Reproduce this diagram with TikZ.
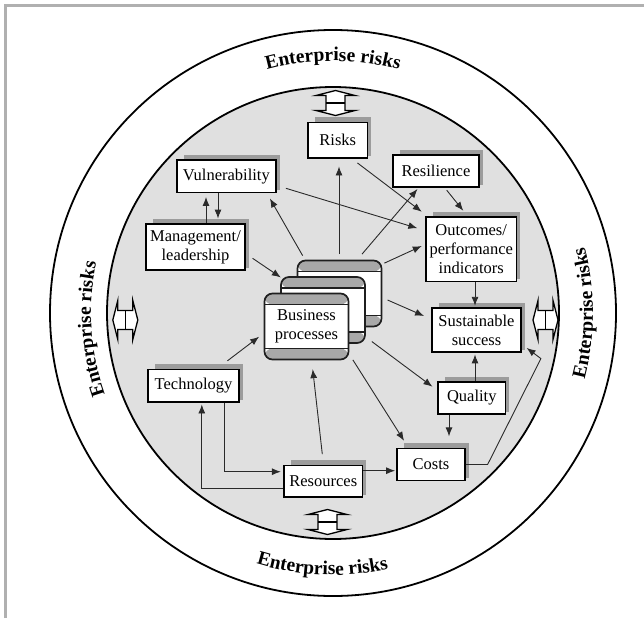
\documentclass[tikz,border=0pt]{standalone}
\usepackage{fontspec}
\setmainfont{Liberation Serif}
\usetikzlibrary{arrows.meta,calc,decorations.text}

\definecolor{discfill}{HTML}{E0E0E0}
\definecolor{shadowc}{HTML}{9C9C9C}
\definecolor{bandc}{HTML}{A8A8A8}
\definecolor{framec}{HTML}{B0B0B0}
\definecolor{linec}{HTML}{2A2A2A}

\pgfdeclarelayer{back}
\pgfdeclarelayer{shade}
\pgfsetlayers{back,shade,main}

\tikzset{
  box/.style={draw=black, line width=1.8pt, fill=white, inner sep=0pt, align=center,
    font=\fontsize{16.5}{19}\selectfont},
  card/.style={draw=black!88, line width=1.7pt, fill=white, rounded corners=8pt,
    minimum width=84pt, minimum height=66pt, inner sep=0pt, align=center,
    font=\fontsize{16.5}{19}\selectfont,
    path picture={
      \fill[bandc] (path picture bounding box.north west) rectangle ([yshift=-11pt]path picture bounding box.north east);
      \fill[bandc] (path picture bounding box.south west) rectangle ([yshift=11pt]path picture bounding box.south east);
      \draw[line width=1.5pt, black!88] ([yshift=-11pt]path picture bounding box.north west) -- ([yshift=-11pt]path picture bounding box.north east);
      \draw[line width=1.5pt, black!88] ([yshift=11pt]path picture bounding box.south west) -- ([yshift=11pt]path picture bounding box.south east);
    }},
  arr/.style={draw=linec, line width=0.9pt, -{Latex[length=9pt,width=7pt]}},
  ring/.style={line width=1.8pt, draw=black},
  ertext/.style={decorate, decoration={text along path, text align=center,
    text={|\bfseries\fontsize{19.5}{20}\selectfont|Enterprise risks}}},
  pics/dblarrow/.style={code={
    \draw[line width=1.3pt, fill=white, line join=miter]
      (-12.5,0) -- (-7.5,-19.5) -- (-7.5,-9.5) -- (7.5,-9.5) -- (7.5,-19.5) -- (12.5,0)
      -- (7.5,19.5) -- (7.5,9.5) -- (-7.5,9.5) -- (-7.5,19.5) -- cycle;
    \draw[line width=1.3pt] (0,-9.5) -- (0,9.5);
  }},
}

\begin{document}
\begin{tikzpicture}[x=1pt,y=-1pt]
\useasboundingbox (0,0) rectangle (644,618);

% frame, rings and disc
\begin{pgfonlayer}{back}
  \draw[framec, line width=2.5pt] (5.5,618) -- (5.5,5.5) -- (644,5.5);
  \draw[ring, fill=white] (333,313) circle[radius=283];
  \draw[ring, fill=discfill] (333,313) circle[radius=226];
\end{pgfonlayer}

% curved labels in the outer ring
\path[ertext] (333,313) ++(-130:252) arc[start angle=-130, end angle=-50, radius=252];
\path[ertext] (333,313) ++(-223.8:242) arc[start angle=-223.8, end angle=-143.8, radius=242];
\path[ertext] (333,313) ++(40:260) arc[start angle=40, end angle=-40, radius=260];
\path[ertext] (333,313) ++(-227.6:262) arc[start angle=-227.6, end angle=-307.6, radius=262];

% two-way exchange arrows on the disc edge
\pic[rotate=90] at (335.5,103) {dblarrow};
\pic[rotate=90] at (327.5,522) {dblarrow};
\pic at (125.3,320) {dblarrow};
\pic at (545.5,320) {dblarrow};

% boxes
\node[box, minimum width=59.5pt, minimum height=35.5pt] (risks) at (337.8,140.3) {Risks};
\node[box, minimum width=86pt, minimum height=31.6pt] (res) at (436,170.8) {Resilience};
\node[box, minimum width=99.4pt, minimum height=32.5pt] (vul) at (226.3,176.3) {Vulnerability};
\node[box, minimum width=99pt, minimum height=46pt] (mgmt) at (195.5,247) {Management/\\leadership};
\node[box, minimum width=90.5pt, minimum height=64.5pt] (out) at (471.2,249.2) {Outcomes/\\performance\\indicators};
\node[box, minimum width=89pt, minimum height=44pt] (sust) at (476.5,330) {Sustainable\\success};
\node[box, minimum width=67.5pt, minimum height=32pt] (qual) at (471.8,398) {Quality};
\node[box, minimum width=68pt, minimum height=32pt] (costs) at (431,464.5) {Costs};
\node[box, minimum width=78.5pt, minimum height=31.5pt] (resr) at (323.3,481.3) {Resources};
\node[box, minimum width=91pt, minimum height=32.5pt] (tech) at (193.5,385.8) {Technology};

% drop shadows behind the boxes
\begin{pgfonlayer}{shade}
  \foreach \n in {risks,res,vul,mgmt,out,sust,qual,costs,resr,tech}
    \fill[shadowc] ([shift={(8,-4.5)}]\n.north west) rectangle ([shift={(3,-3)}]\n.south east);
\end{pgfonlayer}

% stacked process cards
\node[card] (bpC) at (339.5,293.5) {};
\node[card] (bpB) at (323,310) {};
\node[card] (bpA) at (306.5,326.5) {Business\\processes};

% connectors
\draw[arr] ([shift={(10.5,0)}]mgmt.north) -- ([shift={(-20.3,3.5)}]vul.south);
\draw[arr] ([shift={(-8.3,0)}]vul.south) -- ([shift={(22.5,-4.5)}]mgmt.north);
\draw[arr] ([shift={(6,-4)}]bpC.north west) -- ([shift={(-7,5)}]vul.south east);
\draw[arr] ([shift={(-0.5,-5.5)}]bpC.north) -- ([shift={(1.2,7.5)}]risks.south);
\draw[arr] ([shift={(22.5,-5.5)}]bpC.north) -- ([shift={(-18.5,1.5)}]res.south);
\draw[arr] ([shift={(-11,4)}]risks.south east) -- ([shift={(-3.3,-4.3)}]out.north west);
\draw[arr] ([shift={(9,12)}]vul.east) -- ([shift={(-7.7,-21)}]out.west);
\draw[arr] ([shift={(10.7,2.7)}]res.south) -- ([shift={(-7.9,-5.3)}]out.north);
\draw[arr] ([shift={(2,3.5)}]bpC.north east) -- ([shift={(-3.3,-3.2)}]out.west);
\draw[arr] ([shift={(6.7,11.3)}]mgmt.east) -- ([shift={(0.7,1.3)}]bpB.north west);
\draw[arr] ([shift={(3.8,0)}]out.south) -- ([shift={(-1.5,-1.3)}]sust.north);
\draw[arr] ([shift={(5.2,6.5)}]bpC.east) -- ([shift={(-7,-14)}]sust.west);
\draw[arr] ([shift={(3.2,0)}]qual.north) -- ([shift={(-1.5,1.5)}]sust.south);
\draw[arr] ([shift={(6,-2.3)}]bpB.south east) -- ([shift={(-4.7,-11.3)}]qual.west);
\draw[arr] ([shift={(-22.8,0)}]qual.south) -- ([shift={(18,-11.2)}]costs.north);
\draw[arr] ([shift={(3.5,-0.5)}]bpA.south east) -- ([shift={(8,-6.8)}]costs.north west);
\draw[arr] ([shift={(-1,-10.5)}]resr.north) -- ([shift={(6.2,8.8)}]bpA.south);
\draw[arr] ([shift={(-12.5,-7.8)}]tech.north east) -- ([shift={(-4.5,10.2)}]bpA.west);
\draw[arr] ([shift={(-15,0)}]tech.south east) |- ([shift={(-2.3,-9.6)}]resr.west);
\draw[arr] ([shift={(0,7.5)}]resr.west) -| ([shift={(54.7,1.5)}]tech.south west);
\draw[arr] ([shift={(0,-10.6)}]resr.east) -- ([shift={(-1,6.2)}]costs.west);
\draw[arr] (costs.east) -- ++(21.7,0) -- ([shift={(19,5.7)}]sust.south east) -- ([shift={(4.7,-5)}]sust.south east);

\end{tikzpicture}
\end{document}
